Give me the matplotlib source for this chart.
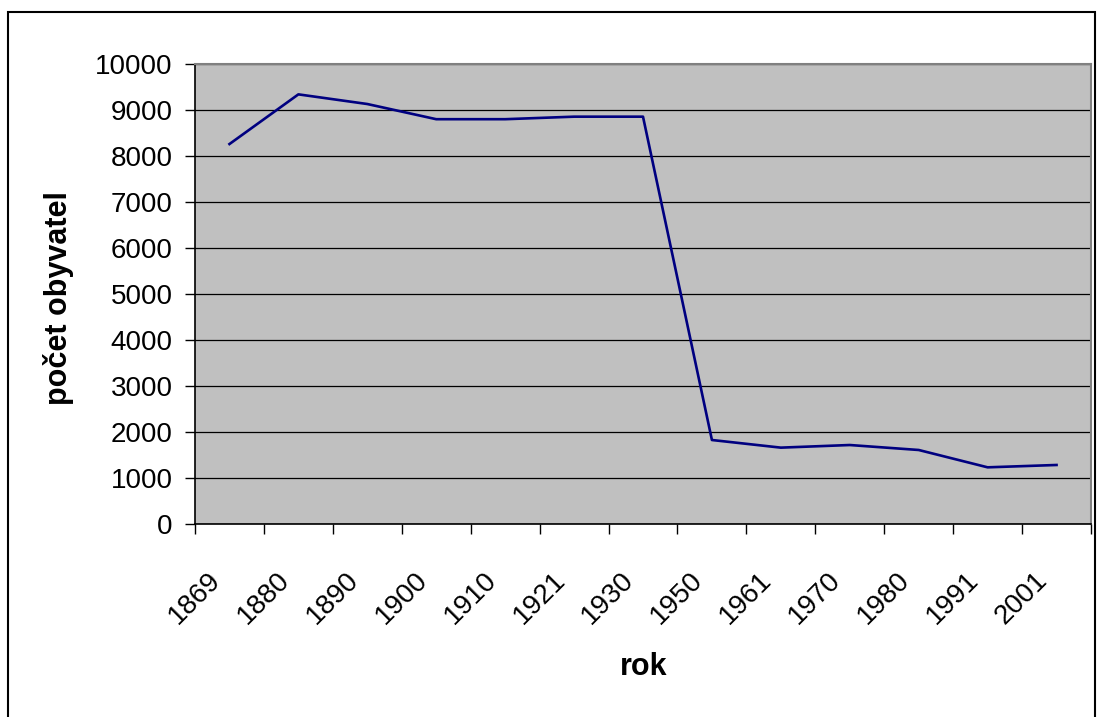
import matplotlib.pyplot as plt
import matplotlib.ticker as mticker
from matplotlib.patches import Rectangle
from matplotlib.transforms import ScaledTranslation

plt.rcParams["font.family"] = ["Liberation Sans", "DejaVu Sans"]

roky = ["1869", "1880", "1890", "1900", "1910", "1921", "1930",
        "1950", "1961", "1970", "1980", "1991", "2001"]
obyvatel = [8260, 9340, 9130, 8800, 8800, 8855, 8855,
            1826, 1660, 1717, 1609, 1232, 1283]

W, H = 1098, 717
fig = plt.figure(figsize=(W / 100, H / 100), dpi=100)
ax = fig.add_axes([195 / W, 1 - 524 / H, (1091 - 195) / W, (524 - 64) / H])

# vnejsi ramecek grafu
fig.patches.append(Rectangle((8 / W, -0.05), (1095 - 8) / W, 1.05 - 12 / H,
                             transform=fig.transFigure, fill=False,
                             edgecolor="black", linewidth=1.5))

ax.set_facecolor("#c0c0c0")
x = [i + 0.5 for i in range(len(roky))]
ax.plot(x, obyvatel, color="#000080", linewidth=1.9)

ax.set_xlim(0, len(roky))
ax.set_ylim(0, 10000)
ax.yaxis.set_major_locator(mticker.MultipleLocator(1000))
ax.grid(axis="y", color="black", linewidth=0.9)
ax.set_axisbelow(True)

# tick marks na hranicich kategorii, popisky uprostred
ax.set_xticks(range(len(roky) + 1))
ax.set_xticklabels([])
ax.tick_params(axis="x", length=7, width=1, color="black")
ax.tick_params(axis="y", length=7, width=1, labelsize=20, pad=9)

posun = ScaledTranslation(-15 / 100, -50 / 100, fig.dpi_scale_trans)
for xi, rok in zip(x, roky):
    ax.text(xi, 0, rok, transform=ax.get_xaxis_transform() + posun,
            rotation=45, rotation_mode="anchor", ha="right",
            va="center_baseline", fontsize=20)

for s in ["top", "right"]:
    ax.spines[s].set_color("#808080")
    ax.spines[s].set_linewidth(1.5)
for s in ["left", "bottom"]:
    ax.spines[s].set_color("black")
    ax.spines[s].set_linewidth(1.2)

fig.text(59 / W, 1 - 298 / H, "počet obyvatel", rotation=90, ha="center",
         va="center", fontsize=22, fontweight="bold")
fig.text(644 / W, 1 - 667 / H, "rok", ha="center", va="center",
         fontsize=22, fontweight="bold")

fig.savefig("out.png", dpi=100)
